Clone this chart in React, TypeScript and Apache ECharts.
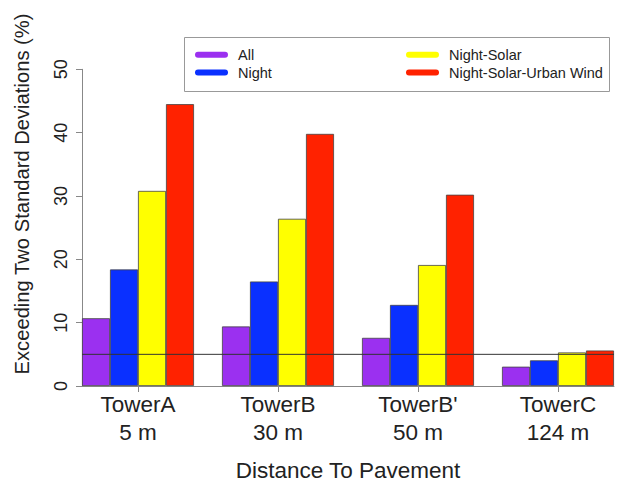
import React, { useEffect, useRef } from "react";
import * as echarts from "echarts";

const categories = ["TowerA\n5 m", "TowerB\n30 m", "TowerB'\n50 m", "TowerC\n124 m"];
const seriesNames = ["All", "Night", "Night-Solar", "Night-Solar-Urban Wind"];
const allValues = [10.7, 9.4, 7.6, 3.05];
const nightValues = [18.4, 16.5, 12.8, 4.05];
const nightSolarValues = [30.8, 26.4, 19.1, 5.3];
const nightSolarWindValues = [44.5, 39.8, 30.2, 5.6];
const colors = ["#9b30f0", "#0a30ff", "#ffff00", "#ff2200"];
const thresholdValue = 5;
const yTicks = { min: 0, max: 50, interval: 10 };

const FONT = "'Liberation Sans', Arial, sans-serif";

export default function App() {
  const ref = useRef<HTMLDivElement>(null);
  useEffect(() => {
    if (!ref.current) return;
    const chart = echarts.init(ref.current, undefined, { renderer: "svg" });
    const values = [allValues, nightValues, nightSolarValues, nightSolarWindValues];
    const capsule = "path://M3,0 H30 A3,3 0 0 1 30,6 H3 A3,3 0 0 1 3,0 Z";
    const legendCommon = {
      orient: "vertical" as const,
      top: 46,
      itemWidth: 33,
      itemHeight: 6,
      itemGap: 0,
      icon: capsule,
      itemStyle: { borderWidth: 0 },
      textStyle: { fontFamily: FONT, fontSize: 14.5, color: "#222", lineHeight: 17.7, padding: [0, 0, 0, 5] },
      padding: 0,
    };
    chart.setOption({
      animation: false,
      textStyle: { fontFamily: FONT },
      graphic: [
        {
          type: "rect",
          z: 0,
          shape: { x: 184.5, y: 37.5, width: 425, height: 54 },
          style: { fill: "#fff", stroke: "#999", lineWidth: 1 },
        },
        {
          type: "text",
          x: 22,
          y: 194,
          rotation: Math.PI / 2,
          style: {
            text: "Exceeding Two Standard Deviations (%)",
            fontFamily: FONT,
            fontSize: 20.2,
            fill: "#222",
            align: "center",
            verticalAlign: "middle",
          },
        },
      ],
      legend: [
        { ...legendCommon, left: 195, data: [seriesNames[0], seriesNames[1]] },
        { ...legendCommon, left: 406, data: [seriesNames[2], seriesNames[3]] },
      ],
      grid: [
        { left: 68, width: 560, top: 69.3, bottom: 96, outerBoundsMode: "none", containLabel: false },
        { left: 82, width: 532, top: 69.3, bottom: 96, outerBoundsMode: "none", containLabel: false },
      ],
      xAxis: [
        {
          type: "category",
          gridIndex: 0,
          data: categories,
          axisLine: { show: false },
          axisTick: { show: true, alignWithLabel: true, length: 6, lineStyle: { color: "#888" } },
          axisLabel: { fontFamily: FONT, fontSize: 22.5, lineHeight: 27.5, margin: 5, color: "#222" },
        },
        {
          type: "value",
          gridIndex: 1,
          min: 0,
          max: 1,
          axisLine: { show: true, lineStyle: { color: "#888" } },
          axisTick: { show: false },
          axisLabel: { show: false },
          splitLine: { show: false },
          name: "Distance To Pavement",
          nameLocation: "middle",
          nameGap: 73,
          nameTextStyle: { fontFamily: FONT, fontSize: 22.5, color: "#222" },
        },
      ],
      yAxis: [
        { type: "value", gridIndex: 0, min: yTicks.min, max: yTicks.max, show: false },
        {
          type: "value",
          gridIndex: 1,
          min: yTicks.min,
          max: yTicks.max,
          interval: yTicks.interval,
          axisLine: { show: true, lineStyle: { color: "#888" } },
          axisTick: { show: true, length: 6, lineStyle: { color: "#888" } },
          axisLabel: { rotate: 90, fontFamily: FONT, fontSize: 18, margin: 12, color: "#222" },
          splitLine: { show: false },
        },
      ],
      series: [
        ...seriesNames.map((name, i) => ({
          name,
          type: "bar",
          xAxisIndex: 0,
          yAxisIndex: 0,
          data: values[i],
          barGap: "0%",
          barCategoryGap: "20%",
          itemStyle: { color: colors[i], borderColor: "#444", borderWidth: 0.8 },
        })),
        {
          type: "line",
          xAxisIndex: 1,
          yAxisIndex: 1,
          data: [
            [0, thresholdValue],
            [1, thresholdValue],
          ],
          symbol: "none",
          silent: true,
          z: 5,
          lineStyle: { color: "#333", width: 1 },
        },
      ],
    });
    return () => chart.dispose();
  }, []);
  return <div ref={ref} style={{ position: "absolute", left: 0, top: 0, width: 617, height: 482 }} />;
}
